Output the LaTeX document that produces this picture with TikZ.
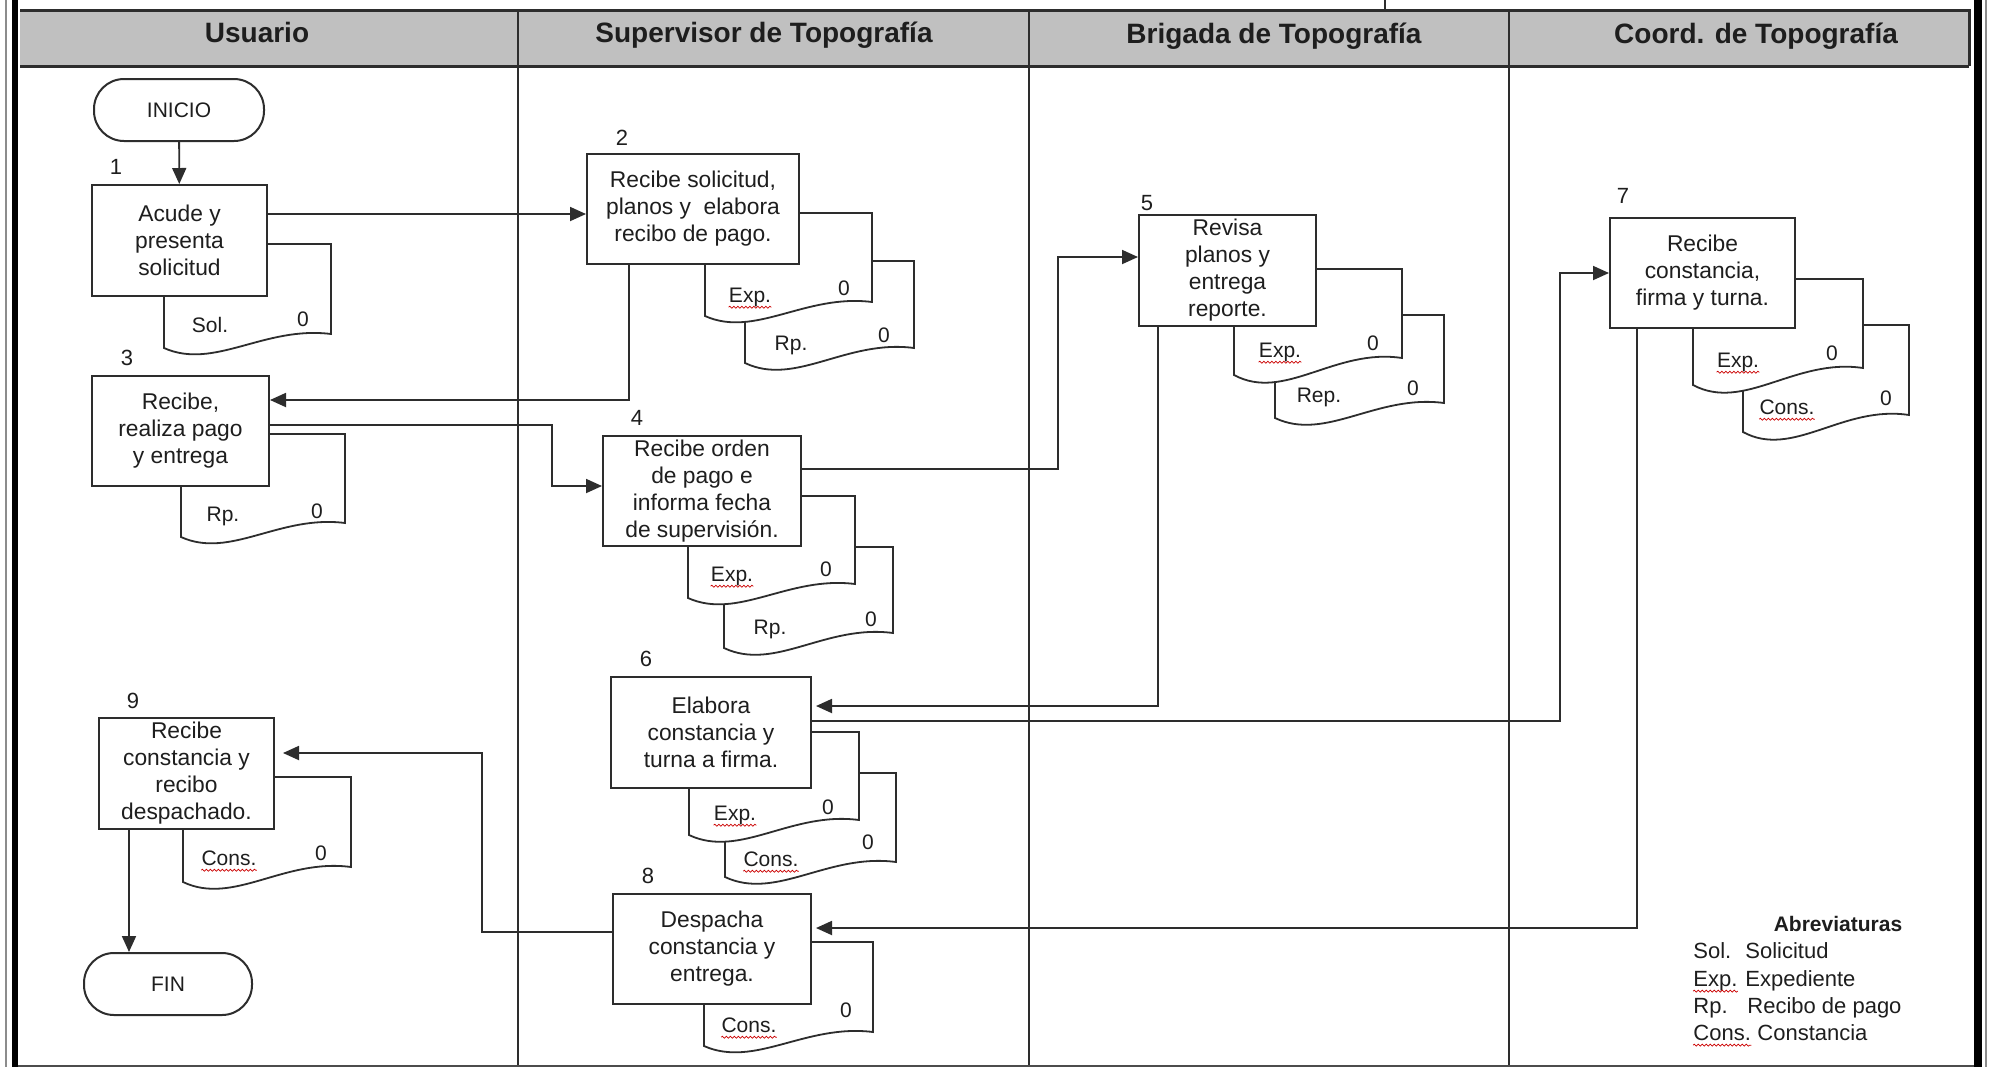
\documentclass[tikz,border=0pt]{standalone}
\usepackage{fontspec}
\setmainfont{Liberation Sans}
\usetikzlibrary{arrows.meta,calc,decorations.pathmorphing}
\definecolor{hdr}{RGB}{192,192,192}
\definecolor{ln}{RGB}{45,45,45}
\definecolor{txt}{RGB}{30,30,30}
% document shape: xl, xr, ytop, ybottom-left, ybottom-right
\newcommand\docsh[5]{%
  \filldraw[docst] (#1,#3) -- (#2,#3) -- (#2,#5)
    .. controls ({#1+0.6*(#2-#1)},{#4-1.6*(#4-#5)}) and ({#1+0.3*(#2-#1)},{#4+1.6*(#4-#5)}) .. (#1,#4) -- cycle;}
\begin{document}
\begin{tikzpicture}[x=0.5pt,y=-0.5pt,
  box/.style={draw=ln,line width=1pt,fill=white,align=center,text=txt,
    font=\fontsize{11.4}{13.5}\selectfont,inner sep=0pt},
  term/.style={draw=ln,line width=1pt,fill=white,rounded corners=15pt,text=txt,
    font=\fontsize{10.5}{12}\selectfont,inner sep=0pt,minimum height=31pt},
  docst/.style={draw=ln,line width=0.9pt,fill=white},
  conn/.style={draw=ln,line width=0.9pt},
  arr/.style={conn,-{Triangle[length=8pt,width=7pt]}},
  num/.style={font=\fontsize{11}{12}\selectfont,inner sep=0pt,anchor=base,text=txt},
  dl/.style={font=\fontsize{10.5}{11}\selectfont,inner sep=0pt,anchor=base,text=txt},
  hd/.style={font=\bfseries\fontsize{14}{16}\selectfont,inner sep=0pt,anchor=base,text=txt},
  lg/.style={font=\fontsize{11}{12}\selectfont,inner sep=0pt,anchor=base west,text=txt},
  squig/.style={draw=red!80!black,line width=0.35pt,decorate,
    decoration={snake,amplitude=0.5pt,segment length=2pt}}
]
\useasboundingbox (0,0) rectangle (1994,1067);
\fill[white] (0,0) rectangle (1994,1067);

% ---------- frame and header ----------
\fill[hdr] (20,10) rectangle (1969,66);
\draw[ln,line width=1.5pt] (20,10) -- (1969,10) -- (1969,66);
\draw[ln,line width=1.5pt] (20,66) -- (1969,66);
\foreach \xx in {518,1029,1509}{\draw[ln,line width=1.3pt] (\xx,10) -- (\xx,1066);}
\draw[black!70,line width=0.9pt] (18,1066) -- (1974,1066);
\draw[black!45,line width=0.8pt] (6,0) -- (6,1067);
\draw[black,line width=3.2pt] (15,0) -- (15,1067);
\draw[black,line width=4pt] (1978,0) -- (1978,1067);
\draw[black!45,line width=0.8pt] (1986,0) -- (1986,1067);
\draw[ln,line width=0.7pt] (1385,0) -- (1385,10);

\node[hd] (hU) at (257,42) {Usuario};
\node[hd] (hS) at (764,42) {Supervisor de Topografía};
\node[hd] (hB) at (1274,43) {Brigada de Topografía};
\node[hd] (hC) at (1756,43) {Coord. de Topografía};

% ---------- Usuario lane ----------
\node[term,minimum width=85pt] (ini) at (179,110) {INICIO};
\node[num] (n1) at (116,174) {1};
\docsh{164}{331}{244}{348}{334}
\node[dl] (d1a) at (210,332) {Sol.};
\node[dl] (d1b) at (303,326) {0};
\node[box,minimum width=87.5pt,minimum height=55.5pt] (b1) at (179.5,240.5) {Acude y\\presenta\\solicitud};

\node[num] (n3) at (127,365) {3};
\docsh{181}{345}{434}{537}{523}
\node[dl] (d3a) at (223,521) {Rp.};
\node[dl] (d3b) at (317,518) {0};
\node[box,minimum width=88.5pt,minimum height=55pt] (b3) at (180.5,431) {Recibe,\\realiza pago\\y entrega};

\node[num] (n9) at (133,708) {9};
\docsh{183}{351}{777}{882}{867}
\node[dl] (d9a) at (229,865) {Cons.};
\node[dl] (d9b) at (321,860) {0};
\node[box,minimum width=87.5pt,minimum height=55.5pt] (b9) at (186.5,773.5) {Recibe\\constancia y\\recibo\\despachado.};

\node[term,minimum width=84pt] (fin) at (168,984) {FIN};

% ---------- Supervisor lane ----------
\node[num] (n2) at (622,145) {2};
\docsh{745}{914}{261}{363}{348}
\node[dl] (d2c) at (791,350) {Rp.};
\node[dl] (d2d) at (884,342) {0};
\docsh{705}{872}{213}{316}{302}
\node[dl] (d2a) at (750,302) {Exp.};
\node[dl] (d2b) at (844,295) {0};
\node[box,minimum width=106pt,minimum height=55pt] (b2) at (693,209) {Recibe solicitud,\\planos y\ \ elabora\\recibo de pago.};

\node[num] (n4) at (637,425) {4};
\docsh{724}{893}{547}{648}{633}
\node[dl] (d4c) at (770,634) {Rp.};
\node[dl] (d4d) at (871,626) {0};
\docsh{688}{855}{496}{598}{584}
\node[dl] (d4a) at (732,581) {Exp.};
\node[dl] (d4b) at (826,576) {0};
\node[box,minimum width=99pt,minimum height=55pt] (b4) at (702,491) {Recibe orden\\de pago e\\informa fecha\\de supervisión.};

\node[num] (n6) at (646,666) {6};
\docsh{725}{896}{773}{877}{862}
\node[dl] (d6c) at (771,866) {Cons.};
\node[dl] (d6d) at (868,849) {0};
\docsh{689}{859}{732}{835}{820}
\node[dl] (d6a) at (735,820) {Exp.};
\node[dl] (d6b) at (828,814) {0};
\node[box,minimum width=100pt,minimum height=55.5pt] (b6) at (711,732.5) {Elabora\\constancia y\\turna a firma.};

\node[num] (n8) at (648,883) {8};
\docsh{704}{873}{942}{1046}{1032}
\node[dl] (d8a) at (749,1032) {Cons.};
\node[dl] (d8b) at (846,1017) {0};
\node[box,minimum width=99pt,minimum height=55pt] (b8) at (712,949) {Despacha\\constancia y\\entrega.};

% ---------- Brigada lane ----------
\node[num] (n5) at (1147,210) {5};
\docsh{1275}{1444}{315}{418}{403}
\node[dl] (d5c) at (1319,402) {Rep.};
\node[dl] (d5d) at (1413,395) {0};
\docsh{1234}{1402}{269}{375}{358}
\node[dl] (d5a) at (1280,357) {Exp.};
\node[dl] (d5b) at (1373,350) {0};
\node[box,minimum width=88.5pt,minimum height=55.5pt] (b5) at (1227.5,270.5) {Revisa\\planos y\\entrega\\reporte.};

% ---------- Coord lane ----------
\node[num] (n7) at (1623,203) {7};
\docsh{1743}{1909}{325}{432}{415}
\node[dl] (d7c) at (1787,414) {Cons.};
\node[dl] (d7d) at (1886,405) {0};
\docsh{1693}{1863}{279}{385}{368}
\node[dl] (d7a) at (1738,367) {Exp.};
\node[dl] (d7b) at (1832,360) {0};
\node[box,minimum width=92.5pt,minimum height=55pt] (b7) at (1702.5,273) {Recibe\\constancia,\\firma y turna.};

% legend
\node[font=\bfseries\fontsize{10.5}{12}\selectfont,inner sep=0pt,anchor=base,text=txt] (lgT) at (1838,931) {Abreviaturas};
\node[lg] (lg1) at (1693,958) {Sol.};
\node[lg] (lg1t) at (1745,958) {Solicitud};
\node[lg] (lg2) at (1693,986) {Exp.};
\node[lg] (lg2t) at (1745,986) {Expediente};
\node[lg] (lg3) at (1693,1013) {Rp.};
\node[lg] (lg3t) at (1747,1013) {Recibo de pago};
\node[lg] (lg4) at (1693,1040) {Cons.};
\node[lg] (lg4t) at (1757,1040) {Constancia};

% spell-check squiggles
\foreach \nn in {d2a,d4a,d5a,d6a,d7a,d6c,d7c,d8a,d9a,lg2,lg4}{
  \draw[squig] ([yshift=-2.6pt]\nn.base west) -- ([yshift=-2.6pt]\nn.base east);}

% ---------- connectors ----------
\draw[arr] (ini) -- (b1);
\draw[arr] (b1.east |- 0,214) -- (b2.west |- 0,214);
\draw[arr] (b2.south -| 629,0) |- (b3.east |- 0,400);
\draw[arr] (b3.east |- 0,425) -| (552,486) -- (b4.west |- 0,486);
\draw[arr] (b4.east |- 0,469) -| (1058,257) -- (b5.west |- 0,257);
\draw[arr,shorten >=2pt] (b5.south -| 1158,0) |- (b6.east |- 0,706);
\draw[arr] (b6.east |- 0,721) -| (1560,273) -- (b7.west);
\draw[arr,shorten >=2pt] (b7.south -| 1637,0) |- (b8.east |- 0,928);
\draw[arr,shorten >=4pt] (b8.west |- 0,932) -| (482,753) -- (b9.east |- 0,753);
\draw[arr] (b9.south -| 129,0) -- (fin.north -| 129,0);
\end{tikzpicture}
\end{document}
